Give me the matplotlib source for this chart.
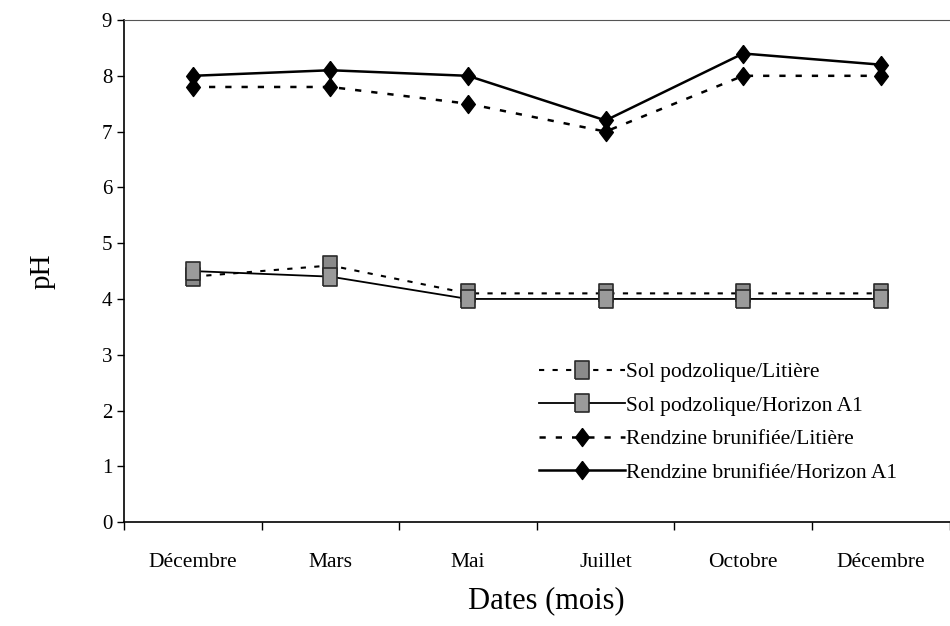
import matplotlib
matplotlib.use("Agg")
import matplotlib.pyplot as plt
import numpy as np
from matplotlib.ticker import FixedLocator

plt.rcParams['font.family'] = ['Liberation Serif', 'DejaVu Serif']

months = ["Décembre", "Mars", "Mai", "Juillet", "Octobre", "Décembre"]
sol_litiere = [4.4, 4.6, 4.1, 4.1, 4.1, 4.1]
sol_a1 = [4.5, 4.4, 4.0, 4.0, 4.0, 4.0]
rend_litiere = [7.8, 7.8, 7.5, 7.0, 8.0, 8.0]
rend_a1 = [8.0, 8.1, 8.0, 7.2, 8.4, 8.2]
labels = ["Sol podzolique/Litière", "Sol podzolique/Horizon A1",
          "Rendzine brunifiée/Litière", "Rendzine brunifiée/Horizon A1"]

rect = [(-0.4, -0.5), (0.4, -0.5), (0.4, 0.5), (-0.4, 0.5), (-0.4, -0.5)]
diam = [(0, 0.5), (0.38, 0), (0, -0.5), (-0.38, 0), (0, 0.5)]

fig = plt.figure(figsize=(9.5, 6.26), dpi=100)
ax = fig.add_axes([0.1305, 0.166, 0.869, 0.802])
x = np.arange(len(months))

dash = (0, (2.5, 4))
ax.plot(x, sol_litiere, linestyle=dash, color='black', lw=1.5, marker=rect,
        markersize=12.5, markerfacecolor='#8a8a8a', markeredgecolor='#2a2a2a',
        markeredgewidth=1.2, label=labels[0])
ax.plot(x, sol_a1, linestyle='-', color='black', lw=1.3, marker=rect,
        markersize=12.5, markerfacecolor='#9a9a9a', markeredgecolor='#2a2a2a',
        markeredgewidth=1.2, label=labels[1])
ax.plot(x, rend_litiere, linestyle=dash, color='black', lw=1.8, marker=diam,
        markersize=13, markerfacecolor='black', markeredgecolor='black',
        label=labels[2])
ax.plot(x, rend_a1, linestyle='-', color='black', lw=1.8, marker=diam,
        markersize=13, markerfacecolor='black', markeredgecolor='black',
        label=labels[3])

ax.set_xlim(-0.5, len(months) - 0.5)
ax.set_ylim(0, 9)
ax.set_yticks(range(0, 10))
ax.tick_params(axis='y', direction='out', length=5, labelsize=15, width=1)
ax.xaxis.set_major_locator(FixedLocator(np.arange(-0.5, len(months), 1.0)))
ax.set_xticklabels([])
ax.set_xticks(x, minor=True)
ax.set_xticklabels(months, minor=True)
ax.tick_params(axis='x', which='major', direction='out', length=6, width=1)
ax.tick_params(axis='x', which='minor', length=0, labelsize=15.5, pad=22)

for s in ['left', 'bottom']:
    ax.spines[s].set_linewidth(1.2)
ax.spines['top'].set_linewidth(0.8)
ax.spines['top'].set_color('#555555')
ax.spines['right'].set_visible(False)

ax.set_ylabel("pH", fontsize=21, labelpad=33)
ax.set_xlabel("Dates (mois)", fontsize=22, labelpad=18)
ax.xaxis.set_label_coords(0.512, -0.128)

leg = ax.legend(loc='lower right', bbox_to_anchor=(0.96, 0.04), frameon=False,
                fontsize=15.5, handlelength=4.0, handletextpad=0.05,
                labelspacing=0.62)

fig.savefig("out.png", dpi=100)
